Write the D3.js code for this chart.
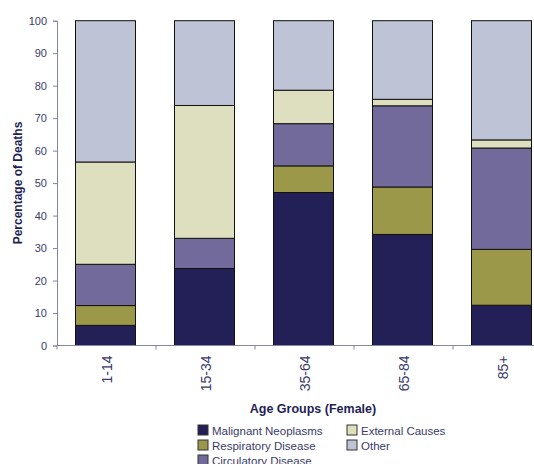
<!DOCTYPE html>
<html>
<head>
<meta charset="utf-8">
<script src="https://cdn.jsdelivr.net/npm/d3@7"></script>
<style>
  body { margin: 0; background: #fff; }
  text { font-family: "Liberation Sans", Arial, sans-serif; }
</style>
</head>
<body>
<div id="chart"></div>
<script>
'use strict';

var ageGroups = ["1-14", "15-34", "35-64", "65-84", "85+"];
var causes = ["Malignant Neoplasms", "Respiratory Disease", "Circulatory Disease", "External Causes", "Other"];
var malignant   = [6.2, 23.7, 47.1, 34.2, 12.4];
var respiratory = [6.1, 0.0, 8.2, 14.6, 17.2];
var circulatory = [12.7, 9.3, 13.0, 25.0, 31.2];
var external    = [31.5, 40.9, 10.3, 2.0, 2.5];
var other       = [43.5, 26.1, 21.4, 24.2, 36.7];
var yTicks = [0, 10, 20, 30, 40, 50, 60, 70, 80, 90, 100];
var colors = ["#222057", "#9c984a", "#736a9c", "#dedfbf", "#bfc3d6"];

var svgWidth = 534, svgHeight = 464;
var textColor = "#3a3a6a", titleColor = "#1f1f55", axisColor = "#8585a5";

var rows = ageGroups.map(function(g, i) {
  return { group: g, 0: malignant[i], 1: respiratory[i], 2: circulatory[i], 3: external[i], 4: other[i] };
});

var svg = d3.select("#chart").append("svg")
  .attr("width", svgWidth)
  .attr("height", svgHeight);

var x = d3.scaleBand()
  .domain(ageGroups)
  .range([57, 552]);

var y = d3.scaleLinear()
  .domain([0, 100])
  .range([345.5, 20.7]);

var barWidth = 60;

var stack = d3.stack().keys([0, 1, 2, 3, 4]);
var series = stack(rows);

// bars
svg.append("g")
  .selectAll("g")
  .data(series)
  .join("g")
  .attr("fill", function(d, i) { return colors[i]; })
  .selectAll("rect")
  .data(function(d) { return d; })
  .join("rect")
  .attr("x", function(d) { return x(d.data.group) + x.bandwidth() / 2 - barWidth / 2 - 1; })
  .attr("width", barWidth)
  .attr("y", function(d) { return y(d[1]); })
  .attr("height", function(d) { return y(d[0]) - y(d[1]); })
  .attr("stroke", "#111")
  .attr("stroke-width", 1);

// y axis
var yAxisG = svg.append("g")
  .attr("transform", "translate(57,0)")
  .call(d3.axisLeft(y).tickValues(yTicks).tickSize(4).tickPadding(6));
yAxisG.selectAll("line, path").attr("stroke", axisColor);
yAxisG.selectAll("text")
  .attr("fill", textColor)
  .style("font-size", "11px")
  .style("font-family", "Liberation Sans, Arial, sans-serif");

// x axis with ticks at band boundaries
var xAxisG = svg.append("g").attr("transform", "translate(0,345.5)");
xAxisG.append("line")
  .attr("x1", 57).attr("x2", svgWidth)
  .attr("stroke", axisColor);
xAxisG.selectAll("line.tick")
  .data(ageGroups)
  .join("line")
  .attr("class", "tick")
  .attr("x1", function(d) { return x(d); })
  .attr("x2", function(d) { return x(d); })
  .attr("y1", 0).attr("y2", 4)
  .attr("stroke", axisColor);
xAxisG.selectAll("text")
  .data(ageGroups)
  .join("text")
  .attr("transform", function(d) {
    return "translate(" + (x(d) + x.bandwidth() / 2 + 5) + ",10) rotate(-90)";
  })
  .attr("text-anchor", "end")
  .attr("fill", textColor)
  .style("font-size", "14px")
  .text(function(d) { return d; });

// axis titles
svg.append("text")
  .attr("transform", "translate(22,183) rotate(-90)")
  .attr("text-anchor", "middle")
  .attr("fill", titleColor)
  .style("font-size", "12px")
  .style("font-weight", "bold")
  .text("Percentage of Deaths");

svg.append("text")
  .attr("x", 313)
  .attr("y", 413)
  .attr("text-anchor", "middle")
  .attr("fill", titleColor)
  .style("font-size", "12.5px")
  .style("font-weight", "bold")
  .text("Age Groups (Female)");

// legend
var legendPos = [[198, 425], [198, 440], [198, 455], [347, 425], [347, 440]];
var legend = svg.append("g")
  .selectAll("g")
  .data(causes)
  .join("g")
  .attr("transform", function(d, i) { return "translate(" + legendPos[i][0] + "," + legendPos[i][1] + ")"; });
legend.append("rect")
  .attr("width", 10).attr("height", 10)
  .attr("fill", function(d, i) { return colors[i]; })
  .attr("stroke", "#333");
legend.append("text")
  .attr("x", 14)
  .attr("y", 9.5)
  .attr("fill", textColor)
  .style("font-size", "11.5px")
  .text(function(d) { return d; });
</script>
</body>
</html>
